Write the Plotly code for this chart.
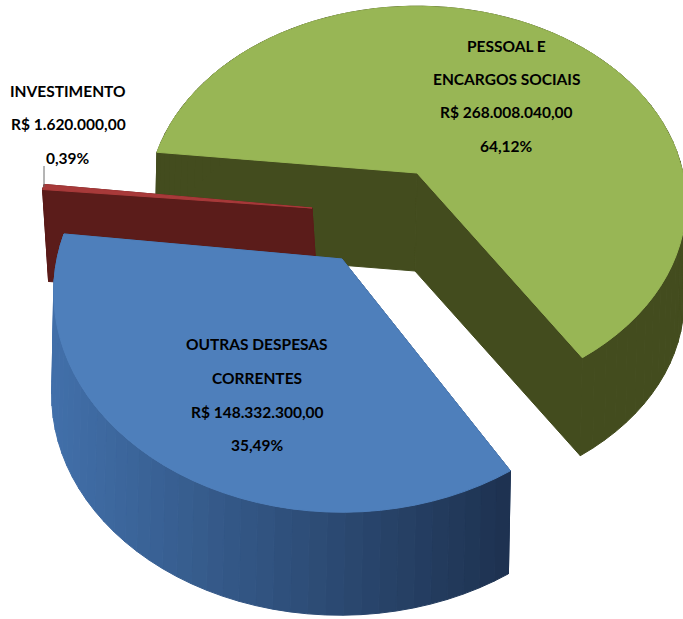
import numpy as np
import plotly.graph_objects as go

# ---- data ----
categories = ["PESSOAL E ENCARGOS SOCIAIS", "OUTRAS DESPESAS CORRENTES", "INVESTIMENTO"]
values = [268008040.00, 148332300.00, 1620000.00]
value_labels = ["R$ 268.008.040,00", "R$ 148.332.300,00", "R$ 1.620.000,00"]
percent_labels = ["64,12%", "35,49%", "0,39%"]

# ---- exploded 3D pie geometry (styles, not data) ----
K = 0.151
start_angle = -83.0
slice_geom = [
    dict(apex=(417, 173), A=266, B=192, D=(-2, 98), rot=-0.7),
    dict(apex=(342, 259), A=285, B=215, D=(-2, 103), rot=1.2),
    dict(apex=(312, 208), A=274, B=215, D=(6, 92), rot=-0.6),
]
top_colors = ["#98B655", "#4E7FBB", "#A83A3A"]
wall_left = [(67, 76, 30), (66, 112, 170), (91, 28, 26)]
wall_right = [(67, 76, 30), (30, 50, 80), (91, 28, 26)]
draw_order = [0, 2, 1]


def project(theta_deg, g):
    t = np.radians(theta_deg)
    X, Y = np.sin(t), np.cos(t)
    w = 1 + K * Y
    return g["apex"][0] + g["A"] * X / w, g["apex"][1] - g["B"] * Y / w


total = sum(values)
edges = start_angle + np.concatenate([[0], np.cumsum(values)]) / total * 360.0

fig = go.Figure()


def poly(xs, ys, color):
    fig.add_trace(go.Scatter(
        x=list(xs) + [xs[0]], y=list(ys) + [ys[0]], mode="lines", fill="toself",
        fillcolor=color, line=dict(color=color, width=1), hoverinfo="skip", showlegend=False))


for i in draw_order:
    g = slice_geom[i]
    n = max(4, int((edges[i + 1] - edges[i]) / 3))
    thetas = np.linspace(edges[i], edges[i + 1], n + 1) + g["rot"]
    ax, ay = project(thetas, g)
    bx = np.concatenate([[g["apex"][0]], ax])
    by = np.concatenate([[g["apex"][1]], ay])
    dx, dy = g["D"]
    m = len(bx)
    xmin, xmax = ax.min(), ax.max()
    for j in range(m):
        k = (j + 1) % m
        xm = (bx[j] + bx[k]) / 2
        f = (xm - xmin) / max(xmax - xmin, 1)
        c = [int(wall_left[i][q] + (wall_right[i][q] - wall_left[i][q]) * f) for q in range(3)]
        poly([bx[j], bx[k], bx[k] + dx, bx[j] + dx],
             [by[j], by[k], by[k] + dy, by[j] + dy], f"rgb({c[0]},{c[1]},{c[2]})")
    poly(list(bx), list(by), top_colors[i])

# leader line of the small slice
fig.add_trace(go.Scatter(x=[44, 44], y=[166, 187], mode="lines",
                         line=dict(color="#6b6b6b", width=1), hoverinfo="skip", showlegend=False))

label_lines = [
    (["PESSOAL E", "ENCARGOS SOCIAIS", value_labels[0], percent_labels[0]], 506, [46, 79, 112, 146]),
    (["OUTRAS DESPESAS", "CORRENTES", value_labels[1], percent_labels[1]], 257, [344, 378, 412, 445]),
    ([categories[2], value_labels[2], percent_labels[2]], 68, [91, 124, 158]),
]
for lines, cx, ys in label_lines:
    for t, y in zip(lines, ys):
        fig.add_annotation(x=cx, y=y, text=f"<b>{t}</b>", showarrow=False, xanchor="center", yanchor="middle",
                           font=dict(family="Lato, Liberation Sans", size=15.5, color="#000000"))

fig.update_layout(
    width=683, height=619, margin=dict(l=0, r=0, t=0, b=0),
    paper_bgcolor="white", plot_bgcolor="white", showlegend=False,
    xaxis=dict(range=[0, 683], visible=False, fixedrange=True),
    yaxis=dict(range=[619, 0], visible=False, fixedrange=True),
)
fig.write_html("out.html", config={"displayModeBar": False},
               post_script="document.body.style.margin='0';document.body.style.overflow='hidden';")
